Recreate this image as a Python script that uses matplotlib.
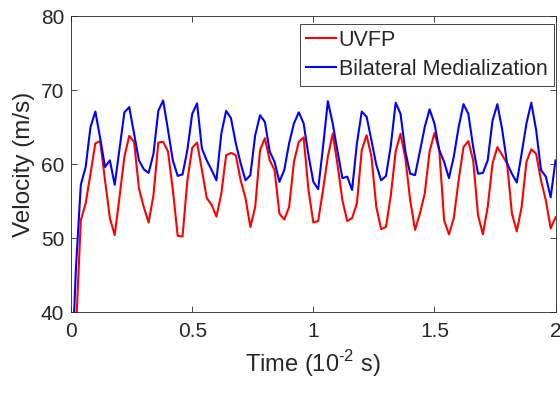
import numpy as np
import matplotlib
matplotlib.use('Agg')
import matplotlib.pyplot as plt

plt.rcParams['font.family'] = ['Liberation Sans', 'DejaVu Sans']
plt.rcParams['mathtext.fontset'] = 'custom'
plt.rcParams['mathtext.rm'] = 'Liberation Sans'

# time in units of 1e-2 s, one sample every 0.02
time = np.round(np.arange(0, 101) * 0.02, 2)

uvfp = [20.0, 37.5, 52.4, 54.7, 58.7, 62.8, 63.1, 57.8, 52.7, 50.4,
        55.6, 61.0, 63.8, 63.0, 56.7, 54.2, 52.1, 55.8, 62.9, 63.0,
        61.7, 56.5, 50.3, 50.2, 57.8, 62.2, 62.9, 59.2, 55.4, 54.5,
        52.9, 56.0, 61.2, 61.5, 61.2, 57.8, 55.4, 51.5, 54.2, 61.9,
        63.5, 60.5, 59.2, 53.3, 52.5, 54.2, 60.3, 63.0, 63.6, 56.5,
        52.1, 52.3, 56.5, 61.0, 64.1, 59.9, 55.1, 52.3, 52.7, 54.7,
        61.9, 63.9, 61.0, 54.2, 51.2, 51.5, 55.8, 61.7, 64.1, 60.8,
        55.1, 51.1, 53.3, 56.0, 61.7, 64.2, 61.9, 52.4, 50.5, 52.7,
        57.8, 62.3, 63.1, 60.5, 53.1, 50.5, 54.2, 60.1, 62.3, 61.2,
        60.1, 53.3, 50.9, 54.2, 60.3, 62.0, 61.4, 57.8, 55.1, 51.3,
        52.8]

bilateral = [30.0, 46.0, 57.2, 59.6, 65.0, 67.1, 63.5, 59.6, 60.5, 57.2,
             62.1, 67.0, 67.7, 64.1, 60.5, 59.3, 58.8, 61.4, 67.2, 68.6,
             64.6, 60.5, 58.4, 58.6, 61.9, 66.8, 68.2, 62.1, 60.5, 59.2,
             57.8, 64.1, 67.2, 66.2, 62.8, 60.1, 57.8, 58.5, 63.9, 66.6,
             65.7, 61.7, 60.3, 57.6, 59.2, 62.8, 65.5, 67.0, 65.5, 61.2,
             57.6, 56.6, 62.3, 68.5, 65.5, 61.7, 58.1, 58.3, 56.5, 62.8,
             67.1, 66.4, 63.2, 59.9, 57.8, 58.4, 62.5, 68.3, 66.8, 61.7,
             58.7, 58.5, 61.7, 65.0, 67.4, 65.5, 61.9, 60.3, 58.1, 61.0,
             65.0, 68.1, 66.8, 62.3, 58.7, 58.8, 60.5, 65.9, 68.1, 64.6,
             60.1, 58.7, 57.5, 61.4, 65.5, 68.3, 64.6, 59.2, 58.3, 55.5,
             60.5]

xticks = [0, 0.5, 1, 1.5, 2]
xtick_labels = ['0', '0.5', '1', '1.5', '2']
yticks = [40, 50, 60, 70, 80]

txt = '#262626'
fig = plt.figure(figsize=(5.6, 3.93), dpi=100)
ax = fig.add_axes([0.127, 0.206, 0.865, 0.753])

ax.plot(time, uvfp, color='red', lw=1.5, label='UVFP')
ax.plot(time, bilateral, color='blue', lw=1.5, label='Bilateral Medialization')

ax.set_xlim(0, 2)
ax.set_ylim(40, 80)
ax.set_xticks(xticks)
ax.set_xticklabels(xtick_labels)
ax.set_yticks(yticks)
ax.tick_params(direction='in', length=4, width=0.6, top=True, right=True,
               labelsize=15, colors=txt)
ax.tick_params(axis='x', pad=7)
ax.tick_params(axis='y', pad=5)
for s in ax.spines.values():
    s.set_color('#262626')
    s.set_linewidth(0.6)

ax.set_xlabel(r'Time (10$^{\mathregular{\text{-}2}}$ s)', fontsize=17, color=txt, labelpad=5)
ax.set_ylabel('Velocity (m/s)', fontsize=17.5, color=txt, labelpad=4)

leg = ax.legend(loc='upper right', bbox_to_anchor=(0.9965, 0.975), fontsize=15.5,
                handlelength=1.4, handletextpad=0.1, borderpad=0.3,
                labelspacing=0.35, borderaxespad=0.0, fancybox=False,
                edgecolor='#262626', framealpha=1)
leg.get_frame().set_linewidth(0.6)
for t in leg.get_texts():
    t.set_color(txt)

fig.savefig('out.png', dpi=100)
